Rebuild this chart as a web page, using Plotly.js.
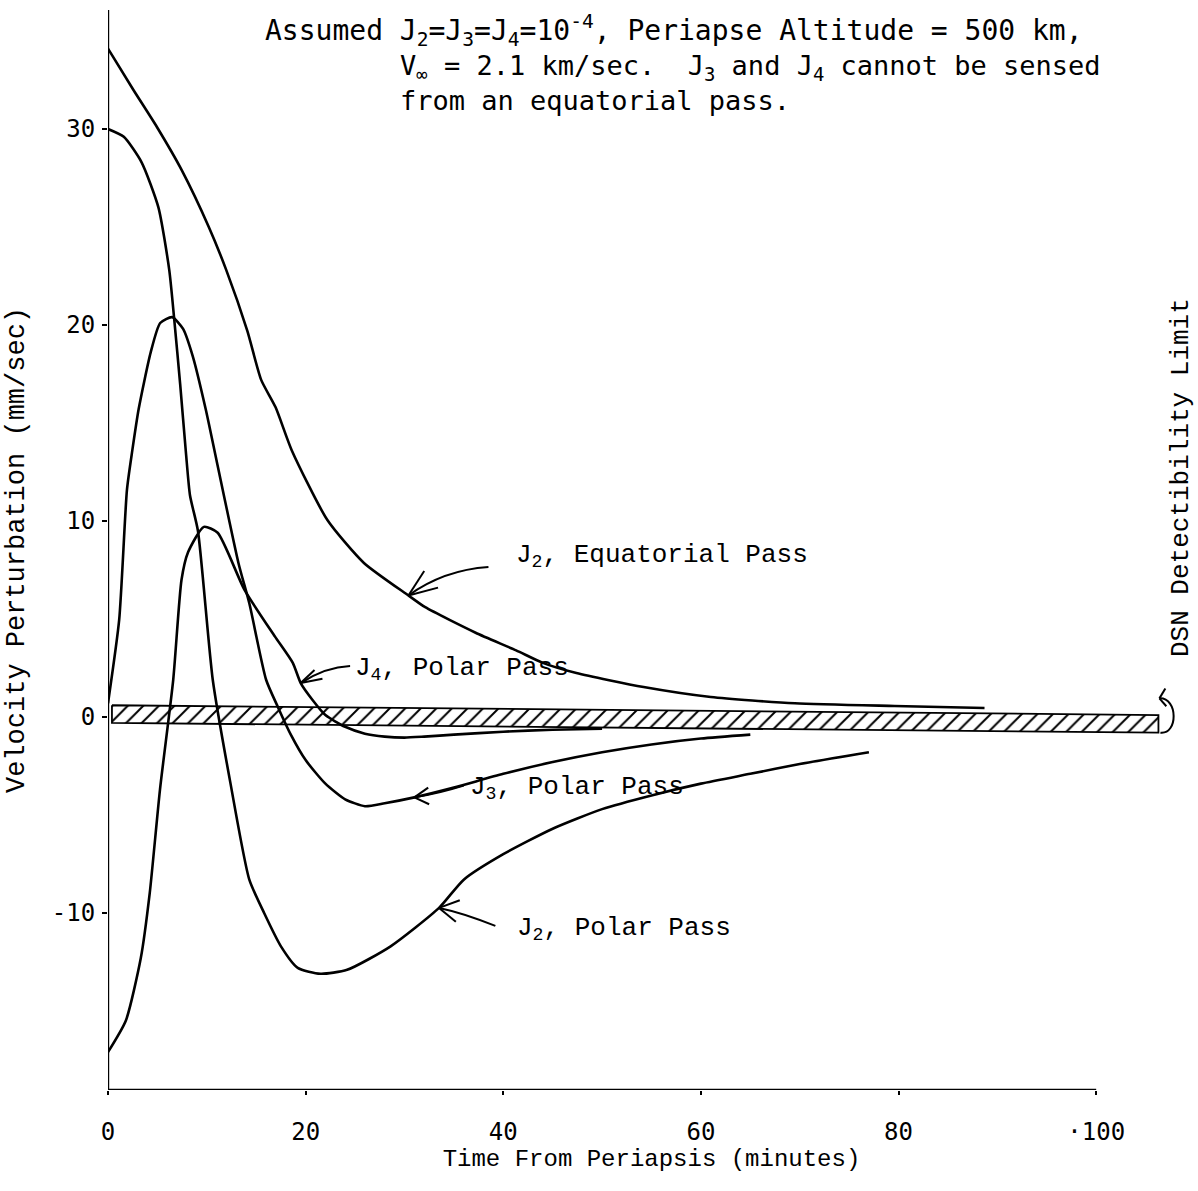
<!DOCTYPE html>
<html>
<head>
<meta charset="utf-8">
<script src="https://cdn.plot.ly/plotly-3.0.1.min.js"></script>
<style>html,body{margin:0;padding:0;background:#fff;}#chart{width:1198px;height:1191px;}</style>
</head>
<body>
<div id="chart"></div>
<script>
// ---- data (time in minutes, velocity perturbation in mm/sec) ----
const timeJ2Eq = [0, 2.56, 4.95, 7.46, 10.2, 11.97, 14.1, 15.5, 16.96, 18.6, 22.2, 25.9, 30.4, 32.1, 37.2, 41.3, 44.0, 47.4, 54.2, 61.0, 69.5, 79.6, 88.7];
const velJ2Eq  = [34.1, 32.0, 30.1, 27.9, 25.0, 22.8, 19.7, 17.2, 15.8, 13.6, 10.05, 7.86, 6.2, 5.6, 4.3, 3.4, 2.76, 2.24, 1.53, 1.02, 0.7, 0.56, 0.46];

const timeJ2Polar = [0, 1.6, 3.4, 5.1, 6.2, 6.7, 7.3, 7.9, 8.3, 9.1, 10.6, 12.4, 14.3, 15.8, 17.5, 19.2, 21.5, 24.2, 28.6, 33.5, 36, 40, 45, 50, 55, 60, 65, 70, 77];
const velJ2Polar  = [30.0, 29.6, 28.3, 26.0, 22.8, 20.3, 17.0, 13.4, 11.3, 9.5, 1.9, -3.4, -8.3, -10.0, -11.7, -12.8, -13.1, -12.9, -11.7, -9.74, -8.3, -7.0, -5.7, -4.7, -4.0, -3.4, -2.9, -2.4, -1.8];

const timeJ3Polar = [0, 1.13, 1.92, 2.46, 3.1, 4.32, 5.28, 6.49, 7.6, 8.58, 9.89, 10.98, 13.2, 14.3, 16.0, 17.2, 18.5, 20, 22, 24, 26, 28, 31, 35, 40, 45, 50, 55, 60, 65];
const velJ3Polar  = [0.7, 4.95, 11.6, 13.6, 15.7, 18.6, 20.1, 20.4, 19.8, 18.4, 15.7, 13.1, 7.86, 5.8, 1.9, 0.5, -0.9, -2.2, -3.4, -4.2, -4.55, -4.4, -4.1, -3.6, -2.9, -2.3, -1.8, -1.4, -1.1, -0.9];

const timeJ4Polar = [0, 1.8, 3.32, 4.22, 5.26, 6.6, 7.44, 8.1, 9.7, 11.1, 13.8, 16.9, 18.7, 19.5, 20.7, 22, 24, 26, 28, 30, 32, 35, 40, 45, 50];
const velJ4Polar  = [-17.1, -15.5, -12.3, -9.0, -3.7, 1.9, 7.0, 8.4, 9.7, 9.4, 6.5, 4.1, 2.76, 1.73, 0.87, 0.1, -0.5, -0.85, -1.0, -1.05, -1.0, -0.9, -0.75, -0.65, -0.6];

// DSN detectability limit band (time ends, upper and lower edge)
const bandTime  = [0.4, 106.3];
const bandUpper = [0.6, 0.1];
const bandLower = [-0.3, -0.8];

const xTickVals = [0, 20, 40, 60, 80, 100];
const xTickText = ['0', '20', '40', '60', '80', '\u00b7100'];
const yTickVals = [-10, 0, 10, 20, 30];
const yTickText = ['-10', '0', '10', '20', '30'];

const TYPE = 'Liberation Mono, Courier New, monospace';
const GOTH = 'DejaVu Sans Mono, monospace';

function curve(x, y, name) {
  return {x: x, y: y, name: name, type: 'scatter', mode: 'lines',
          line: {color: '#000', width: 2.6, shape: 'spline', smoothing: 0.6},
          hoverinfo: 'skip', showlegend: false};
}

const bandX = [bandTime[0], bandTime[1], bandTime[1], bandTime[0], bandTime[0]];
const bandY = [bandUpper[0], bandUpper[1], bandLower[1], bandLower[0], bandUpper[0]];

const traces = [
  {x: bandX, y: bandY, type: 'scatter', mode: 'lines', fill: 'toself',
   fillcolor: 'rgba(255,255,255,0)',
   fillpattern: {shape: '/', size: 11, solidity: 0.18, fgcolor: '#000', bgcolor: '#fff'},
   line: {color: '#000', width: 1.8}, hoverinfo: 'skip', showlegend: false, name: 'DSN limit'},
  curve(timeJ2Eq, velJ2Eq, 'J2, Equatorial Pass'),
  curve(timeJ2Polar, velJ2Polar, 'J2, Polar Pass'),
  curve(timeJ3Polar, velJ3Polar, 'J3, Polar Pass'),
  curve(timeJ4Polar, velJ4Polar, 'J4, Polar Pass')
];

const Y0 = -19.03, Y1 = 36.07;

function arrowShapes(tail, ctrl, tip, h1, h2) {
  const ln = {color: '#000', width: 2};
  return [
    {type: 'path', xref: 'x', yref: 'y', line: ln,
     path: `M ${tail[0]},${tail[1]} Q ${ctrl[0]},${ctrl[1]} ${tip[0]},${tip[1]}`},
    {type: 'line', xref: 'x', yref: 'y', line: ln, x0: tip[0], y0: tip[1], x1: h1[0], y1: h1[1]},
    {type: 'line', xref: 'x', yref: 'y', line: ln, x0: tip[0], y0: tip[1], x1: h2[0], y1: h2[1]}
  ];
}

const shapes = [
  // axis lines
  {type: 'line', xref: 'x', yref: 'y', x0: 0, x1: 0, y0: Y0, y1: Y1, line: {color: '#000', width: 2.4}},
  {type: 'line', xref: 'x', yref: 'y', x0: 0, x1: 100, y0: Y0, y1: Y0, line: {color: '#000', width: 2.4}},
  // curl at the end of the band
  {type: 'path', xref: 'x', yref: 'y', line: {color: '#000', width: 2},
   path: 'M 106.4,0.95 C 108.3,1.0 108.3,-0.9 106.5,-0.8'},
  {type: 'line', xref: 'x', yref: 'y', x0: 106.4, y0: 0.95, x1: 107.0, y1: 1.45, line: {color: '#000', width: 2}},
  {type: 'line', xref: 'x', yref: 'y', x0: 106.4, y0: 0.95, x1: 107.1, y1: 0.55, line: {color: '#000', width: 2}}
]
  .concat(arrowShapes([38.5, 7.65], [34.0, 7.5], [30.4, 6.2], [32.0, 7.45], [33.4, 6.6]))
  .concat(arrowShapes([24.5, 2.6], [22.0, 2.55], [19.5, 1.73], [20.9, 2.4], [21.7, 1.95]))
  .concat(arrowShapes([36.0, -3.5], [33.5, -3.9], [31.0, -4.1], [32.4, -3.6], [32.5, -4.45]))
  .concat(arrowShapes([39.2, -10.66], [36.0, -10.0], [33.5, -9.74], [35.6, -9.35], [35.2, -10.45]));

const annotations = [
  {x: 15.7, y: 35.0, xref: 'x', yref: 'y', xanchor: 'left', yanchor: 'middle', showarrow: false,
   text: 'Assumed J<sub>2</sub>=J<sub>3</sub>=J<sub>4</sub>=10<sup>-4</sup>, Periapse Altitude = 500 km,',
   font: {family: GOTH, size: 28, color: '#000'}},
  {x: 29.3, y: 32.35, xref: 'x', yref: 'y', xanchor: 'left', yanchor: 'middle', align: 'left', showarrow: false,
   text: 'V<sub>\u221e</sub> = 2.1 km/sec.  J<sub>3</sub> and J<sub>4</sub> cannot be sensed<br>from an equatorial pass.',
   font: {family: GOTH, size: 27, color: '#000'}},
  {x: 41.1, y: 8.2, xref: 'x', yref: 'y', xanchor: 'left', yanchor: 'middle', showarrow: false,
   text: 'J<sub>2</sub>, Equatorial Pass', font: {family: TYPE, size: 26, color: '#000'}},
  {x: 24.8, y: 2.45, xref: 'x', yref: 'y', xanchor: 'left', yanchor: 'middle', showarrow: false,
   text: 'J<sub>4</sub>, Polar Pass', font: {family: TYPE, size: 26, color: '#000'}},
  {x: 36.4, y: -3.6, xref: 'x', yref: 'y', xanchor: 'left', yanchor: 'middle', showarrow: false,
   text: 'J<sub>3</sub>, Polar Pass', font: {family: TYPE, size: 26, color: '#000'}},
  {x: 41.2, y: -10.8, xref: 'x', yref: 'y', xanchor: 'left', yanchor: 'middle', showarrow: false,
   text: 'J<sub>2</sub>, Polar Pass', font: {family: TYPE, size: 26, color: '#000'}},
  {x: 108.6, y: 12.2, xref: 'x', yref: 'y', xanchor: 'center', yanchor: 'middle', showarrow: false,
   textangle: -90, text: 'DSN Detectibility Limit', font: {family: TYPE, size: 26, color: '#000'}}
];

const layout = {
  width: 1198, height: 1191,
  margin: {l: 108, r: 3, t: 10, b: 101},
  paper_bgcolor: '#fff', plot_bgcolor: '#fff',
  showlegend: false,
  xaxis: {range: [0, 110], showgrid: false, zeroline: false, showline: false,
          tickmode: 'array', tickvals: xTickVals, ticktext: xTickText,
          ticks: 'outside', ticklen: 4, tickwidth: 2, tickcolor: '#000',
          ticklabelstandoff: 16,
          tickfont: {family: GOTH, size: 24, color: '#000'},
          title: {text: 'Time From Periapsis (minutes)', standoff: 4,
                  font: {family: TYPE, size: 24, color: '#000'}}},
  yaxis: {range: [Y0, Y1], showgrid: false, zeroline: false, showline: false,
          tickmode: 'array', tickvals: yTickVals, ticktext: yTickText,
          ticks: 'outside', ticklen: 5, tickwidth: 2, tickcolor: '#000',
          ticklabelstandoff: 2,
          tickfont: {family: GOTH, size: 24, color: '#000'},
          title: {text: 'Velocity Perturbation (mm/sec)', standoff: 19,
                  font: {family: TYPE, size: 27, color: '#000'}}},
  shapes: shapes,
  annotations: annotations
};

Plotly.newPlot('chart', traces, layout, {displayModeBar: false, staticPlot: true});
</script>
</body>
</html>
